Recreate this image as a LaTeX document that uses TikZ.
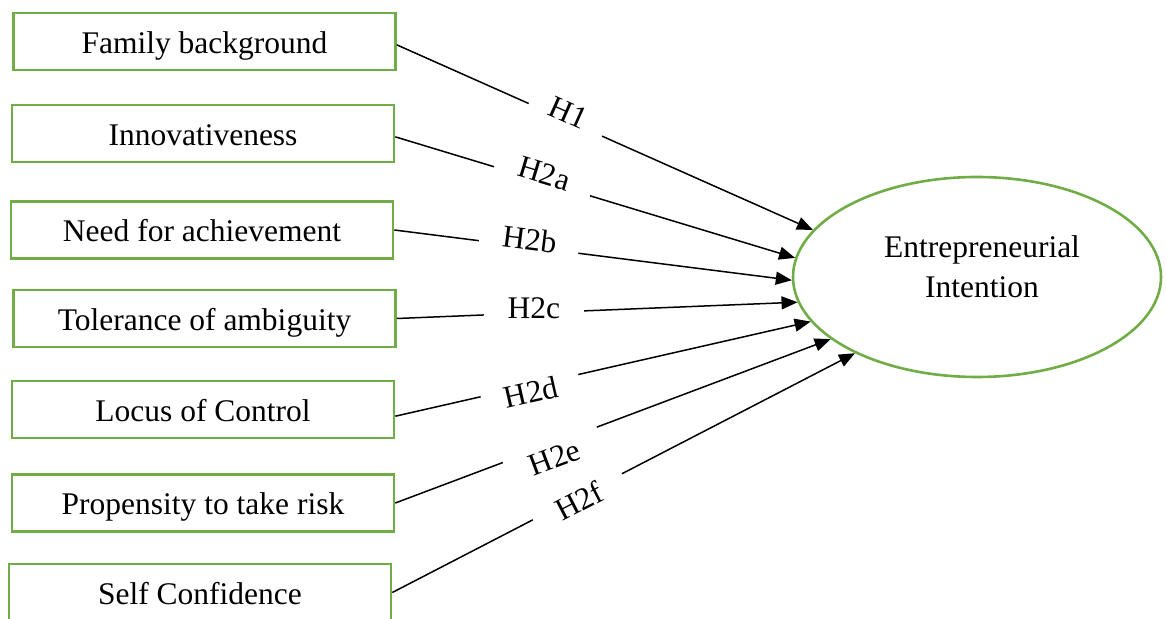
\documentclass[tikz,border=0pt]{standalone}
\usepackage{fontspec}
\setmainfont{Liberation Serif}
\usetikzlibrary{arrows.meta,shapes.geometric}
\definecolor{boxgreen}{HTML}{70AD47}
\tikzset{
  varbox/.style={draw=boxgreen, line width=1.3pt, rectangle, inner sep=0pt,
    minimum width=191pt, minimum height=28.5pt, text height=14pt, text depth=2pt,
    font=\fontsize{15.75}{19}\selectfont},
  outcome/.style={draw=boxgreen, line width=1.3pt, ellipse, inner sep=0pt,
    minimum width=184pt, minimum height=100pt},
  link/.style={draw=black, line width=0.75pt, -{Triangle[length=8pt,width=6.5pt]}},
  hlbl/.style 2 args={fill=white, sloped, inner sep=0pt, minimum width=50pt,
    text height=#1, text depth=#2, font=\fontsize{15.75}{19}\selectfont}
}
\begin{document}
\begin{tikzpicture}[x=0.5pt,y=-0.5pt]
\useasboundingbox (0,0) rectangle (1166,619);
\node[varbox] (b1) at (204.5,41.5) {Family background};
\node[varbox] (b2) at (203,133.5) {Innovativeness};
\node[varbox] (b3) at (202,230) {Need for achievement};
\node[varbox] (b4) at (204.5,318.5) {Tolerance of ambiguity};
\node[varbox] (b5) at (203,409.5) {Locus of Control};
\node[varbox] (b6) at (203,503) {Propensity to take risk};
\node[varbox] (b7) at (200,592.5) {Self Confidence};
\node[outcome] (ei) at (977,277)
  [label={[align=center, yshift=5pt, xshift=2.5pt, font=\fontsize{15.75}{20}\selectfont]center:Entrepreneurial\\Intention}] {};
\draw[link] (b1.-1.35) -- node[hlbl={11pt}{8.6pt}, pos=0.405, minimum width=40pt] {H1} (ei.164.3);
\draw[link] (b2.-1.05) -- node[hlbl={11pt}{8.6pt}, pos=0.367] {H2a} (ei.174.7);
\draw[link] (b3.east) -- node[hlbl={11pt}{7.6pt}, pos=0.338] {H2b} (ei.181.25);
\draw[link] (b4.-0.75) -- node[hlbl={11pt}{5.6pt}, pos=0.342, rotate=-2.5] {H2c} (ei.188.3);
\draw[link] (b5.-2.25) -- node[hlbl={17.4pt}{0pt}, pos=0.323] {H2d} (ei.195.2);
\draw[link] (b6.0.6) -- node[hlbl={24.4pt}{0pt}, pos=0.355] {H2e} (ei.203);
\draw[link] (b7.-0.75) -- node[hlbl={15.4pt}{0pt}, pos=0.40] {H2f} (ei.212.9);
\end{tikzpicture}
\end{document}
